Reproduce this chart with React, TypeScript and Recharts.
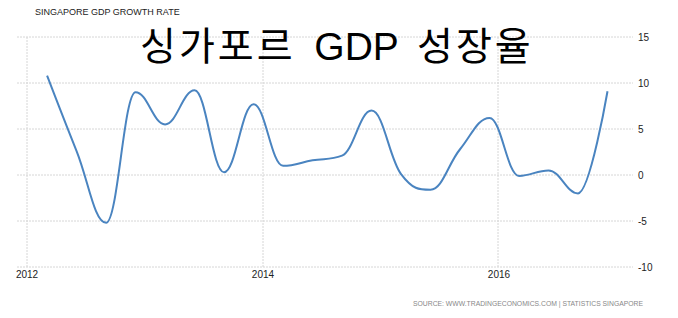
import { LineChart, Line, XAxis, YAxis, CartesianGrid } from 'recharts'

// quarterly GDP growth
const quarters = [
  'Q1 2012', 'Q2 2012', 'Q3 2012', 'Q4 2012',
  'Q1 2013', 'Q2 2013', 'Q3 2013', 'Q4 2013',
  'Q1 2014', 'Q2 2014', 'Q3 2014', 'Q4 2014',
  'Q1 2015', 'Q2 2015', 'Q3 2015', 'Q4 2015',
  'Q1 2016', 'Q2 2016', 'Q3 2016', 'Q4 2016',
]
const growth = [
  10.8, 2.6, -5.2, 9.0,
  5.5, 9.2, 0.3, 7.7,
  1.0, 1.6, 2.1, 7.0,
  0.1, -1.6, 2.8, 6.2,
  -0.1, 0.5, -2.0, 9.1,
]
const yearTicks = [2012, 2014, 2016]
const valueTicks = [-10, -5, 0, 5, 10, 15]

function toYear(q: string): number {
  const [qq, yy] = q.split(' ')
  return Number(yy) + (Number(qq.slice(1)) - 1) * 0.25 + 0.17
}

const data = quarters.map((q, i) => ({ t: toYear(q), v: growth[i] }))

// highcharts-style spline (smoothing 1.5, no overshoot past neighbours)
function hcSpline(context: any) {
  let pts: number[][] = []
  return {
    areaStart() {},
    areaEnd() {},
    lineStart() { pts = [] },
    point(x: number, y: number) { pts.push([+x, +y]) },
    lineEnd() {
      const n = pts.length
      if (!n) return
      context.moveTo(pts[0][0], pts[0][1])
      if (n === 1) return
      const left: number[][] = []
      const right: number[][] = []
      const s = 1.5
      const d = s + 1
      for (let i = 0; i < n; i++) {
        if (i === 0 || i === n - 1) {
          left[i] = pts[i]
          right[i] = pts[i]
          continue
        }
        const [px, py] = pts[i]
        const [lx, ly] = pts[i - 1]
        const [nx, ny] = pts[i + 1]
        const lcx = (s * px + lx) / d
        let lcy = (s * py + ly) / d
        const rcx = (s * px + nx) / d
        let rcy = (s * py + ny) / d
        if (rcx !== lcx) {
          const corr = ((rcy - lcy) * (rcx - px)) / (rcx - lcx) + py - rcy
          lcy += corr
          rcy += corr
        }
        if (lcy > ly && lcy > py) { lcy = Math.max(ly, py); rcy = 2 * py - lcy }
        else if (lcy < ly && lcy < py) { lcy = Math.min(ly, py); rcy = 2 * py - lcy }
        if (rcy > ny && rcy > py) { rcy = Math.max(ny, py); lcy = 2 * py - rcy }
        else if (rcy < ny && rcy < py) { rcy = Math.min(ny, py); lcy = 2 * py - rcy }
        left[i] = [lcx, lcy]
        right[i] = [rcx, rcy]
      }
      for (let i = 1; i < n; i++) {
        context.bezierCurveTo(right[i - 1][0], right[i - 1][1], left[i][0], left[i][1], pts[i][0], pts[i][1])
      }
    },
  }
}

const gridColor = '#d6d6d6'
const lineColor = '#4a84c0'
const font = 'Liberation Sans, Arial, sans-serif'

export default function App() {
  return (
    <div style={{ position: 'absolute', left: 0, top: 0, width: 678, height: 318, background: '#fff' }}>
      <LineChart
        width={678}
        height={318}
        data={data}
        margin={{ top: 37, right: 5, bottom: 21, left: 17 }}
      >
        <CartesianGrid stroke={gridColor} strokeDasharray="2 1" verticalPoints={[27, 263, 498]} />
        <XAxis
          dataKey="t"
          type="number"
          domain={[2011.915, 2017.136]}
          ticks={yearTicks}
          allowDataOverflow
          axisLine={false}
          tickLine={false}
          tickSize={0}
          tickMargin={4}
          height={30}
          tick={{ fontSize: 10, fill: '#222', fontFamily: font }}
        />
        <YAxis
          orientation="right"
          type="number"
          domain={[-10, 15]}
          ticks={valueTicks}
          axisLine={false}
          tickLine={false}
          tickSize={0}
          tickMargin={5}
          width={40}
          tick={{ fontSize: 10, fill: '#222', fontFamily: font }}
        />
        <Line
          type={hcSpline as any}
          dataKey="v"
          stroke={lineColor}
          strokeWidth={2}
          dot={false}
          isAnimationActive={false}
        />
      </LineChart>
      <div style={{ position: 'absolute', left: 35, top: 7, fontSize: 9, color: '#222', fontFamily: font, whiteSpace: 'nowrap' }}>
        SINGAPORE GDP GROWTH RATE
      </div>
      <div style={{ position: 'absolute', left: 140, top: 22, fontSize: 39, lineHeight: '50px', wordSpacing: 8, color: '#000', fontFamily: '"Liberation Sans", "Noto Sans CJK KR", sans-serif', whiteSpace: 'nowrap' }}>
        <span style={{ letterSpacing: 3 }}>싱가포르</span> GDP <span style={{ letterSpacing: 3 }}>성장율</span>
      </div>
      <div style={{ position: 'absolute', left: 413, top: 300, fontSize: 6.8, color: '#888', fontFamily: font, whiteSpace: 'nowrap' }}>
        SOURCE: WWW.TRADINGECONOMICS.COM | STATISTICS SINGAPORE
      </div>
    </div>
  )
}
